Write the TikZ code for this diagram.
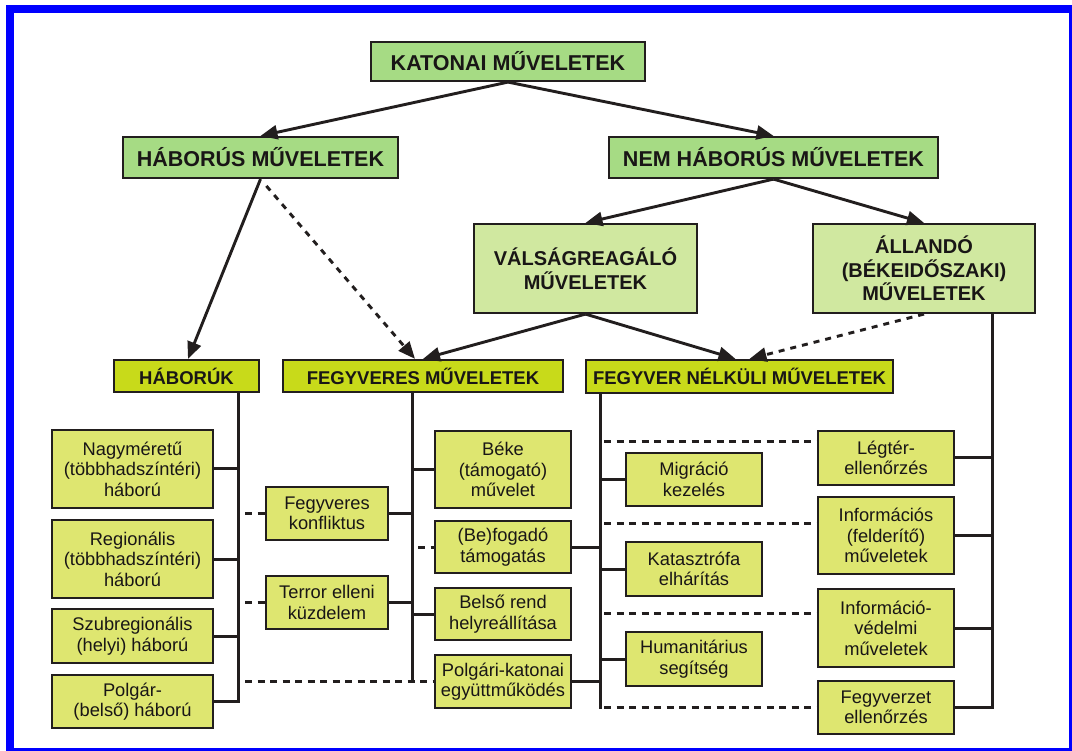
\documentclass[tikz,border=0pt]{standalone}
\usepackage{fontspec}
\setmainfont{Liberation Sans}
\usetikzlibrary{arrows.meta,calc}
\definecolor{topg}{RGB}{166,219,132}
\definecolor{midg}{RGB}{208,232,160}
\definecolor{catg}{RGB}{200,218,26}
\definecolor{leafg}{RGB}{222,230,112}
\definecolor{edge}{RGB}{34,30,30}
\definecolor{txt}{RGB}{25,22,22}
\definecolor{frameblue}{RGB}{0,0,255}
\tikzset{
 box/.style={draw=edge, line width=2.2pt, inner sep=0pt, align=center, text=txt},
 sz/.style 2 args={minimum width=#1pt, minimum height=#2pt},
 topbox/.style={box, fill=topg, font=\fontsize{21.5}{24}\selectfont\bfseries},
 midbox/.style={box, fill=midg, font=\fontsize{20}{23.5}\selectfont\bfseries},
 catbox/.style={box, fill=catg, font=\fontsize{18.5}{21}\selectfont\bfseries},
 leaf/.style={box, fill=leafg, font=\fontsize{18.3}{20.5}\selectfont},
 arr/.style={line width=2.9pt, draw=edge, -{Triangle[length=17pt,width=14pt]}},
 darr/.style={arr, dash pattern=on 6pt off 6pt},
 conn/.style={line width=3pt, draw=edge, line cap=rect},
 dconn/.style={line width=3pt, draw=edge, dash pattern=on 7pt off 5.5pt},
}
\begin{document}
\begin{tikzpicture}[x=1pt,y=-1pt]
\useasboundingbox (0,0) rectangle (1072,751);
\clip (0,0) rectangle (1072,751);
\fill[white] (0,0) rectangle (1072,751);
\draw[frameblue, line width=8pt] (10,9) rectangle (1073,752);

% top levels
\node[topbox, sz={274}{39}] (kat) at (508,61.5) {KATONAI MŰVELETEK};
\node[topbox, sz={275}{41}] (hab) at (260.5,157.5) {HÁBORÚS MŰVELETEK};
\node[topbox, sz={329}{41}] (nem) at (773.5,157.5) {NEM HÁBORÚS MŰVELETEK};
\node[midbox, sz={223}{89}] (val) at (585.5,268.5) {VÁLSÁGREAGÁLÓ\\MŰVELETEK};
\node[midbox, sz={222}{89}] (all) at (924,268.5) {ÁLLANDÓ\\(BÉKEIDŐSZAKI)\\MŰVELETEK};

% categories
\node[catbox, sz={145}{32}] (habk) at (186.5,376) {HÁBORÚK};
\node[catbox, sz={280}{32}] (fegy) at (423,376) {FEGYVERES MŰVELETEK};
\node[catbox, sz={307}{33}] (fnk) at (739.5,376.5) {FEGYVER NÉLKÜLI MŰVELETEK};

% leaves left
\node[leaf, sz={161}{78}] (nagy) at (132.5,469) {Nagyméretű\\(többhadszíntéri)\\háború};
\node[leaf, sz={161}{78}] (reg) at (132.5,559) {Regionális\\(többhadszíntéri)\\háború};
\node[leaf, sz={161}{54}] (szub) at (132.5,636) {Szubregionális\\(helyi) háború};
\node[leaf, sz={161}{53}] (polg) at (132.5,701.5) {Polgár-\\(belső) háború};

\node[leaf, sz={122}{53}] (fk) at (327,513.5) {Fegyveres\\konfliktus};
\node[leaf, sz={122}{53}] (ter) at (327,602.5) {Terror elleni\\küzdelem};

\node[leaf, sz={136}{77}] (beke) at (503,469.5) {Béke\\(támogató)\\művelet};
\node[leaf, sz={136}{52}] (befo) at (503,547) {(Be)fogadó\\támogatás};
\node[leaf, sz={136}{52}] (bels) at (503,614) {Belső rend\\helyreállítása};
\node[leaf, sz={136}{53}] (pk) at (503,681.5) {Polgári-katonai\\együttműködés};

\node[leaf, sz={136}{53}] (mig) at (694,479.5) {Migráció\\kezelés};
\node[leaf, sz={136}{54}] (kat2) at (694,569) {Katasztrófa\\elhárítás};
\node[leaf, sz={136}{54}] (hum) at (694,659) {Humanitárius\\segítség};

\node[leaf, sz={136}{54}] (leg) at (886,458) {Légtér-\\ellenőrzés};
\node[leaf, sz={136}{77}] (inf) at (886,535.5) {Információs\\(felderítő)\\műveletek};
\node[leaf, sz={136}{78}] (ivd) at (886,628) {Információ-\\védelmi\\műveletek};
\node[leaf, sz={136}{53}] (fegyz) at (886,707.5) {Fegyverzet\\ellenőrzés};

% arrows
\draw[arr] (kat.south) -- (hab.north);
\draw[arr] (kat.south) -- (nem.north);
\draw[arr] (nem.south) -- (val.north);
\draw[arr] (nem.south) -- (all.north);
\draw[arr] (hab.south) -- ([xshift=1.5pt]habk.north);
\draw[darr, shorten <=9pt] (hab.south) -- ([xshift=-8pt]fegy.north);
\draw[arr] (val.south) -- (fegy.north);
\draw[arr] (val.south) -- ([xshift=-4pt]fnk.north);
\draw[darr] (all.south) -- ([xshift=10pt]fnk.north);

% trunk coordinates
\coordinate (vh) at (238,0);
\coordinate (vf) at (412,0);
\coordinate (vn) at (600,0);
\coordinate (va) at (992,0);

% HÁBORÚK tree
\draw[conn] (habk.south -| vh) -- (polg.east -| vh);
\foreach \n in {nagy,reg,szub,polg} \draw[conn] (\n.east) -- (\n.east -| vh);
\foreach \n in {fk,ter,pk} \draw[dconn] ([xshift=7pt]\n.west -| vh) -- (\n.west);

% FEGYVERES tree
\draw[conn] (fegy.south -| vf) -- (pk.west -| vf);
\foreach \n in {fk,ter} \draw[conn] (\n.east) -- (\n.east -| vf);
\foreach \n in {beke,bels} \draw[conn] (\n.west) -- (\n.west -| vf);
\draw[dconn] ([xshift=6pt]befo.west -| vf) -- (befo.west);

% FEGYVER NÉLKÜLI tree
\draw[conn] (fnk.south -| vn) -- (fegyz.west -| vn);
\foreach \n in {befo,pk} \draw[conn] (\n.east) -- (\n.east -| vn);
\foreach \n in {mig,kat2,hum} \draw[conn] (\n.west) -- (\n.west -| vn);
\coordinate (d1) at (600,442);
\coordinate (d2) at (600,523);
\coordinate (d3) at (600,613);
\coordinate (d4) at (600,707.5);
\foreach \d/\n in {d1/leg,d2/inf,d3/ivd,d4/fegyz} \draw[dconn] ([xshift=4pt]\d) -- (\d -| \n.west);

% ÁLLANDÓ tree
\draw[conn] (all.south -| va) -- (fegyz.east -| va);
\foreach \n in {leg,inf,ivd,fegyz} \draw[conn] (\n.east) -- (\n.east -| va);
\end{tikzpicture}
\end{document}
